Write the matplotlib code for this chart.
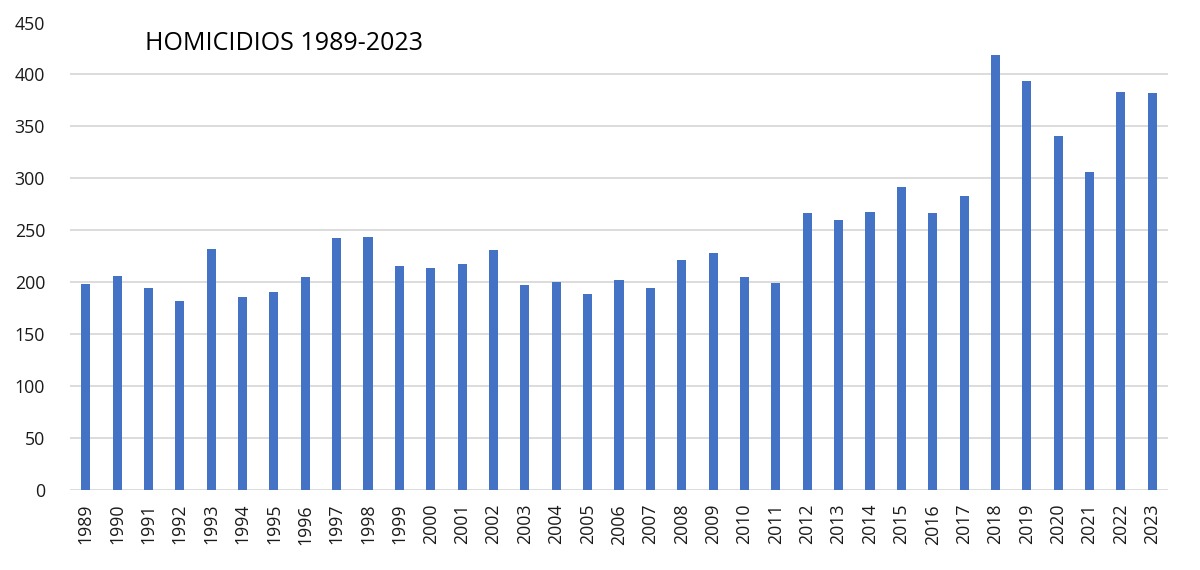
import matplotlib.pyplot as plt
import numpy as np

years = [str(y) for y in range(1989, 2024)]
homicidios = [198, 206, 194, 182, 232, 186, 191, 205, 243, 244,
              216, 214, 218, 231, 197, 200, 189, 202, 194, 221,
              228, 205, 199, 267, 260, 268, 292, 267, 283, 419,
              394, 341, 306, 383, 382]
yticks = list(range(0, 451, 50))

plt.rcParams['font.family'] = ['Open Sans', 'DejaVu Sans']

fig = plt.figure(figsize=(12, 5.7), dpi=100)
ax = fig.add_axes([70 / 1200, 80 / 570, 1098 / 1200, 467.5 / 570])

x = np.arange(len(years))
ax.bar(x, homicidios, width=0.29, color='#4472C4', zorder=3)

ax.set_xlim(-0.5, len(years) - 0.5)
ax.set_ylim(0, 450)
ax.set_yticks(yticks)
ax.set_xticks(x)
ax.set_xticklabels(years, rotation=90)

ax.grid(axis='y', color='#d9d9d9', linewidth=1.3, zorder=0)
for s in ax.spines.values():
    s.set_visible(False)
ax.tick_params(axis='both', length=0, labelsize=12.8, colors='#1a1a1a')
ax.tick_params(axis='y', pad=18)
ax.tick_params(axis='x', pad=10)

ax.text(0.068, 0.955, 'HOMICIDIOS 1989-2023', transform=ax.transAxes,
        fontsize=18, color='black', va='center', ha='left')

fig.savefig('out.png', dpi=100)
